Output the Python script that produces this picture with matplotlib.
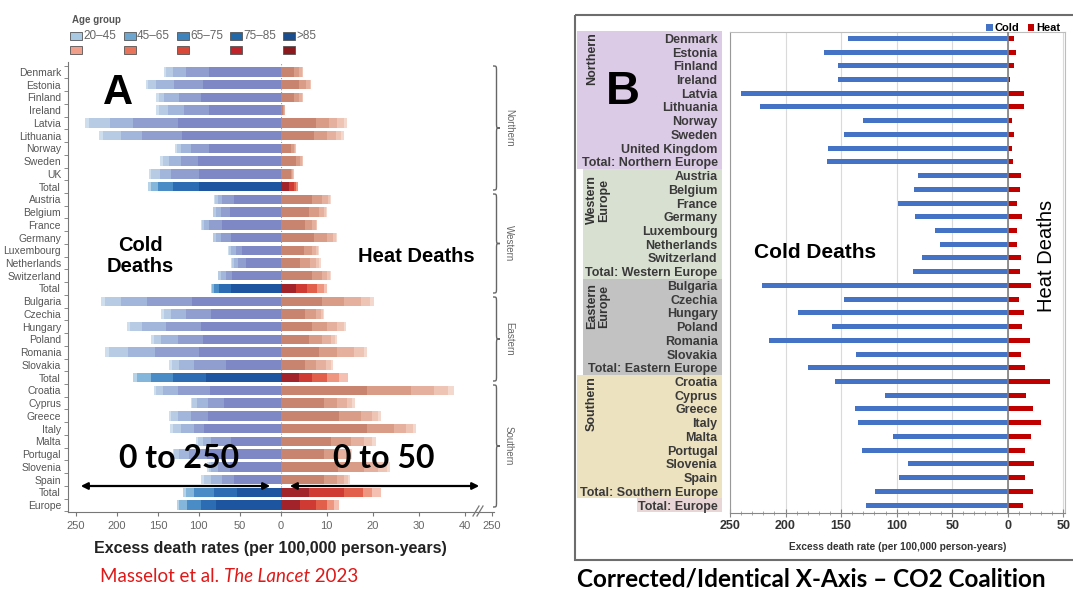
import matplotlib
matplotlib.use('Agg')
import matplotlib.pyplot as plt
from matplotlib.patches import Rectangle, PathPatch, FancyArrowPatch
from matplotlib.path import Path
import matplotlib.transforms as mtransforms
import numpy as np

# ---------------- data: panel A (stacked by age group) ----------------
rows_a = ["Denmark", "Estonia", "Finland", "Ireland", "Latvia", "Lithuania", "Norway",
          "Sweden", "UK", "Total",
          "Austria", "Belgium", "France", "Germany", "Luxembourg", "Netherlands",
          "Switzerland", "Total",
          "Bulgaria", "Czechia", "Hungary", "Poland", "Romania", "Slovakia", "Total",
          "Croatia", "Cyprus", "Greece", "Italy", "Malta", "Portugal", "Slovenia",
          "Spain", "Total", "Europe"]
total_rows = [9, 17, 24, 33, 34]
age_groups = ["20\u201345", "45\u201365", "65\u201375", "75\u201385", ">85"]

# cold excess death rates per age group (innermost segment = >85)
cold_85 = [87, 95, 97, 87, 126, 120, 87, 101, 100, 100,
           57, 62, 72, 61, 47, 42, 59, 61,
           108, 85, 97, 95, 100, 67, 91,
           86, 69, 89, 93, 61, 90, 62, 57, 53, 79]
cold_75 = [29, 35, 27, 31, 55, 49, 23, 21, 34, 32,
           14, 11, 15, 12, 8, 10, 8, 14,
           55, 31, 43, 31, 54, 39, 41,
           40, 20, 21, 13, 24, 22, 15, 14, 28, 18]
cold_65 = [16, 22, 18, 20, 28, 26, 12, 14, 14, 18,
           6, 6, 6, 6, 5, 4.5, 6, 6,
           32, 18, 29, 20, 33, 18, 26,
           18, 13, 16, 16, 10, 12, 8, 14, 25, 17]
cold_45 = [8, 10, 7, 11, 25, 22, 5, 8, 10, 9,
           3, 3, 3, 3, 3, 3, 3, 3,
           20, 9, 15, 9, 23, 9, 17,
           8, 6, 8, 10, 6, 6, 3, 9, 10, 10]
cold_20 = [3, 3, 3, 3, 5, 5, 2, 3, 3, 3,
           1, 1, 1.5, 1, 1, 1.2, 1, 1,
           5, 3, 4, 3, 5, 3, 5,
           3, 2, 3, 3, 3, 2, 1.5, 3, 3, 3]

heat_85 = [2.9, 4.0, 2.9, 0.6, 7.6, 7.2, 2.2, 3.3, 2.2, 1.8,
           6.9, 6.2, 5.4, 7.2, 5.1, 4.3, 6.9, 3.3,
           9.0, 5.4, 6.9, 6.2, 8.3, 5.4, 4.0,
           18.8, 9.4, 12.7, 18.8, 10.9, 9.4, 12.5, 9.4, 6.2, 4.3]
heat_75 = [1.2, 1.5, 1.2, 0.2, 2.9, 2.9, 0.7, 0.9, 0.4, 1.1,
           2.1, 2.1, 1.5, 2.9, 1.8, 2.2, 2.1, 2.5,
           4.8, 2.2, 3.2, 2.8, 4.0, 2.2, 2.9,
           9.5, 2.9, 4.7, 5.8, 4.3, 3.3, 5.5, 2.9, 7.6, 3.3]
heat_65 = [0.5, 0.8, 0.5, 0.1, 1.8, 1.9, 0.3, 0.4, 0.2, 0.5,
           1.2, 1.1, 0.7, 1.3, 0.9, 1.3, 1.1, 2.2,
           3.6, 1.1, 2.2, 1.9, 3.6, 2.2, 3.2,
           5.0, 2.2, 2.5, 2.6, 2.9, 1.8, 3.2, 1.5, 4.0, 2.5]
heat_45 = [0.2, 0.3, 0.2, 0.0, 1.5, 1.2, 0.1, 0.2, 0.1, 0.3,
           0.6, 0.5, 0.3, 0.6, 0.4, 0.6, 0.6, 1.5,
           2.1, 0.5, 1.4, 0.9, 2.1, 1.2, 2.6,
           3.0, 1.1, 1.3, 1.5, 1.8, 0.8, 1.8, 0.9, 2.1, 1.5]
heat_20 = [0.1, 0.1, 0.1, 0.0, 0.7, 0.6, 0.1, 0.1, 0.0, 0.1,
           0.2, 0.2, 0.1, 0.3, 0.1, 0.3, 0.2, 0.6,
           0.8, 0.2, 0.6, 0.4, 0.8, 0.4, 1.9,
           1.4, 0.5, 0.5, 0.6, 0.8, 0.3, 0.7, 0.3, 1.8, 1.1]

# ---------------- data: panel B (totals) ----------------
rows_b = ["Denmark", "Estonia", "Finland", "Ireland", "Latvia", "Lithuania", "Norway",
          "Sweden", "United Kingdom", "Total: Northern Europe",
          "Austria", "Belgium", "France", "Germany", "Luxembourg", "Netherlands",
          "Switzerland", "Total: Western Europe",
          "Bulgaria", "Czechia", "Hungary", "Poland", "Romania", "Slovakia",
          "Total: Eastern Europe",
          "Croatia", "Cyprus", "Greece", "Italy", "Malta", "Portugal", "Slovenia",
          "Spain", "Total: Southern Europe", "Total: Europe"]
cold_b = [143.5, 165, 153, 153, 240, 223, 130.6, 147, 161.5, 163,
          80.5, 84.7, 99, 83.5, 65.5, 60.7, 77.5, 85.6,
          221, 147, 189, 158.6, 215, 137, 179.6,
          155.6, 110.5, 137.5, 134.5, 103.6, 131.5, 89.5, 97.6, 119.5, 127.6]
heat_b = [6, 7.8, 6, 2, 14.7, 14.7, 3.6, 6, 3.6, 4.8,
          11.7, 10.8, 8.7, 12.6, 8.7, 8.7, 11.7, 10.8,
          20.7, 10.2, 14.7, 12.6, 19.8, 11.7, 15.6,
          38, 16.8, 22.8, 30, 20.7, 15.6, 23.7, 15.6, 22.8, 13.8]

# ---------------- figure ----------------
W, H = 1073, 589
fig = plt.figure(figsize=(W / 100, H / 100), dpi=100)
fig.patch.set_facecolor('white')
px = mtransforms.Affine2D().scale(1 / W, -1 / H).translate(0, 1) + fig.transFigure
SANS = 'Liberation Sans'
HUM = 'Lato'


def axrect(l, t, r, b):
    return [l / W, 1 - b / H, (r - l) / W, (b - t) / H]


# ================= PANEL A =================
axL = fig.add_axes(axrect(68, 62, 280.5, 512))
axR = fig.add_axes(axrect(280.5, 62, 494, 512), sharey=axL)
n = len(rows_a)
y = np.arange(n)

cold_country = ['#7d88c5', '#8f9dcf', '#a2b6dc', '#b7cbe5', '#cfdeef']
cold_total = ['#1d55a0', '#2c6cb2', '#4a8cc6', '#84b6dc', '#b6d3ea']
heat_country = ['#c8846f', '#d89c87', '#e5b09e', '#eec4b5', '#f5d8cd']
heat_total = ['#a3232a', '#cf3a32', '#e2604b', '#ee967f', '#f5bfb1']

cold_groups = [cold_85, cold_75, cold_65, cold_45, cold_20]
heat_groups = [heat_85, heat_75, heat_65, heat_45, heat_20]
cum = np.zeros(n)
for j, vals in enumerate(cold_groups):
    vals = np.array(vals, dtype=float)
    cols = [cold_total[j] if i in total_rows else cold_country[j] for i in range(n)]
    axL.barh(y, -vals, left=-cum, height=0.74, color=cols, linewidth=0)
    cum += vals
cum = np.zeros(n)
for j, vals in enumerate(heat_groups):
    vals = np.array(vals, dtype=float)
    cols = [heat_total[j] if i in total_rows else heat_country[j] for i in range(n)]
    axR.barh(y, vals, left=cum, height=0.74, color=cols, linewidth=0)
    cum += vals

axL.set_xlim(-260, 0)
axR.set_xlim(0, 46.3)
axL.set_ylim(34.55, -0.785)
axR.axvline(0, color='#999999', lw=0.8, ls=(0, (1, 1.5)), zorder=0)

for a in (axL, axR):
    for s in ('top', 'right'):
        a.spines[s].set_visible(False)
    a.spines['bottom'].set_color('#777777')
    a.tick_params(axis='x', colors='#777777', labelsize=8, length=3, labelcolor='#666666')
axR.spines['left'].set_visible(False)
axL.spines['left'].set_color('#777777')

axL.set_xticks([-250, -200, -150, -100, -50, 0])
axL.set_xticklabels(['250', '200', '150', '100', '50', '0'], fontfamily=SANS)
axR.set_xticks([10, 20, 30, 40, 45.8])
axR.set_xticklabels(['10', '20', '30', '40', '250'], fontfamily=SANS)

axL.set_yticks(y)
axL.set_yticklabels(rows_a, fontfamily=SANS, fontsize=7.5, color='#555555')
axL.tick_params(axis='y', which='major', length=0, pad=5)
axL.set_yticks(np.arange(-0.5, n, 1.0), minor=True)
axL.tick_params(axis='y', which='minor', length=3, color='#777777')
axR.tick_params(axis='y', which='both', left=False, labelleft=False)

# axis break marks
for dx in (0, 4):
    fig.add_artist(plt.Line2D([473 + dx, 479 + dx], [516, 506], transform=px, color='#777777', lw=0.9))

# braces + region names
def brace(x0, y0, y1, w=7, q=5):
    xm = x0 + w / 2
    ym = (y0 + y1) / 2
    verts = [(x0, y0), (xm, y0), (xm, y0), (xm, y0 + q),
             (xm, ym - q), (xm, ym), (xm, ym), (x0 + w, ym),
             (xm, ym), (xm, ym), (xm, ym + q),
             (xm, y1 - q), (xm, y1), (xm, y1), (x0, y1)]
    codes = [Path.MOVETO, Path.CURVE4, Path.CURVE4, Path.CURVE4,
             Path.LINETO, Path.CURVE4, Path.CURVE4, Path.CURVE4,
             Path.CURVE4, Path.CURVE4, Path.CURVE4,
             Path.LINETO, Path.CURVE4, Path.CURVE4, Path.CURVE4]
    fig.add_artist(PathPatch(Path(verts, codes), transform=px, fill=False,
                             edgecolor='#666666', lw=1.0))

for (y0, y1, name) in [(66, 190, 'Northern'), (194, 293, 'Western'),
                       (297, 381, 'Eastern'), (385, 507, 'Southern')]:
    brace(493, y0, y1)
    fig.text(509, (y0 + y1) / 2, name, transform=px, rotation=270, ha='center', va='center',
             fontsize=7, color='#666666', fontfamily=SANS)

# legend of age groups
fig.text(72, 20, 'Age group', transform=px, fontsize=7, fontweight='bold', color='#555555',
         va='center', ha='left', fontfamily=SANS)
leg_x = [70, 124, 177, 230, 283]
blues = ['#a9c9e3', '#6fa6d0', '#3f83bd', '#2068a8', '#194d8e']
reds = ['#f0a08a', '#e8745c', '#d8493a', '#c0232a', '#8b1a1f']
for k in range(5):
    fig.add_artist(Rectangle((leg_x[k], 32), 12, 8, transform=px, facecolor=blues[k],
                             edgecolor='#555555', lw=0.6))
    fig.add_artist(Rectangle((leg_x[k], 46), 12, 8, transform=px, facecolor=reds[k],
                             edgecolor='#555555', lw=0.6))
    fig.text(leg_x[k] + 13, 36, age_groups[k], transform=px, fontsize=8.5, color='#666666',
             va='center', ha='left', fontfamily=SANS)

fig.text(118, 93, 'A', transform=px, fontsize=30, fontweight='heavy', ha='center',
         va='center', fontfamily=SANS)
fig.text(140, 256, 'Cold\nDeaths', transform=px, fontsize=14.5, fontweight='bold', ha='center',
         va='center', fontfamily=SANS, linespacing=1.15)
fig.text(416, 257, 'Heat Deaths', transform=px, fontsize=14.5, fontweight='bold', ha='center',
         va='center', fontfamily=SANS)
fig.text(179, 459, '0 to 250', transform=px, fontsize=23, fontweight='bold', ha='center',
         va='center', fontfamily=HUM)
fig.text(384, 459, '0 to 50', transform=px, fontsize=23, fontweight='bold', ha='center',
         va='center', fontfamily=HUM)
for (x0, x1) in [(78, 273), (287, 482)]:
    fig.add_artist(FancyArrowPatch((x0, 486), (x1, 486), transform=px, arrowstyle='<|-|>',
                                   mutation_scale=10, lw=1.6, color='black'))
fig.text(270, 549, 'Excess death rates (per 100,000 person-years)', transform=px,
         fontsize=11.5, fontweight='bold', ha='center', va='center', fontfamily=SANS,
         color='#222222')
t1 = fig.text(100, 577, 'Masselot et al. ', transform=px, fontsize=13.5, color='#e01818',
              ha='left', va='center', fontfamily=HUM)
fig.canvas.draw()
bb = t1.get_window_extent()
t2 = fig.text(bb.x1 / W, 1 - 577 / H, 'The Lancet', fontsize=13.5, color='#e01818',
              ha='left', va='center', fontfamily=HUM, style='italic')
fig.canvas.draw()
bb2 = t2.get_window_extent()
fig.text(bb2.x1 / W, 1 - 577 / H, ' 2023', fontsize=13.5, color='#e01818',
         ha='left', va='center', fontfamily=HUM)

# ================= PANEL B =================
fig.add_artist(Rectangle((575, 15), 520, 545, transform=px, fill=False,
                         edgecolor='#6d6d6d', lw=1.5))
axB = fig.add_axes(axrect(730, 32, 1065, 513))
yb = np.arange(len(rows_b))
bc = axB.barh(yb, -np.array(cold_b), height=0.36, color='#4472c4', label='Cold', zorder=3)
bh = axB.barh(yb, heat_b, height=0.36, color='#c00000', label='Heat', zorder=3)
axB.set_xlim(-250, 51.6)
axB.set_ylim(34.58, -0.46)
axB.axvline(0, color='#7f7f7f', lw=1.2, zorder=4)
axB.set_xticks([-250, -200, -150, -100, -50, 0, 50])
axB.set_xticklabels(['250', '200', '150', '100', '50', '0', '50'], fontweight='bold',
                    fontfamily=SANS, fontsize=9, color='#333333')
axB.set_xticks(np.arange(-250, 51, 10), minor=True)
axB.tick_params(axis='x', which='major', direction='inout', length=6, color='#888888', pad=2)
axB.tick_params(axis='x', which='minor', direction='inout', length=3, color='#999999')
axB.grid(axis='x', which='major', color='#dadada', lw=0.8, zorder=0)
axB.set_axisbelow(True)
for s in axB.spines.values():
    s.set_color('#bdbdbd')
axB.spines['left'].set_color('#999999')
axB.spines['bottom'].set_color('#888888')
axB.set_yticks(yb)
axB.set_yticklabels(rows_b, fontweight='bold', fontfamily=SANS, fontsize=9, color='#3a3a3a')
axB.tick_params(axis='y', length=0, pad=9)
axB.set_xlabel('Excess death rate (per 100,000 person-years)', fontweight='bold',
               fontfamily=SANS, fontsize=7.3, color='#333333', labelpad=7)

bt = mtransforms.blended_transform_factory(mtransforms.Affine2D().scale(1 / W, 1) + fig.transFigure,
                                           axB.transData)
for (x0, x1, y0, y1, c) in [(577, 722, -0.5, 9.5, '#dccbe6'), (583, 722, 9.5, 17.5, '#d8e0d2'),
                            (583, 722, 17.5, 24.5, '#c2c2c2'), (577, 722, 24.5, 33.5, '#ede2bf'),
                            (637, 722, 33.5, 34.5, '#e8d5d5')]:
    axB.add_patch(Rectangle((x0, y0), x1 - x0, y1 - y0, transform=bt, facecolor=c,
                            edgecolor='none', clip_on=False, zorder=0.5))

for (xc, yc, txt) in [(592, 59, 'Northern'), (598, 200, 'Western\nEurope'),
                      (598, 306, 'Eastern\nEurope'), (592, 404, 'Southern')]:
    fig.text(xc, yc, txt, transform=px, rotation=90, ha='center', va='center', fontsize=9,
             fontweight='bold', color='#333333', fontfamily=SANS, linespacing=0.95)

fig.text(623, 92, 'B', transform=px, fontsize=34, fontweight='heavy', ha='center', va='center',
         fontfamily=SANS)
fig.text(815, 252, 'Cold Deaths', transform=px, fontsize=15, fontweight='bold', ha='center',
         va='center', fontfamily=SANS)
fig.text(1047, 256, 'Heat Deaths', transform=px, fontsize=14.5, rotation=90, ha='center',
         va='center', fontfamily=SANS)
axB.legend(handles=[bc, bh], loc='lower right', bbox_to_anchor=(0.99, 0.995), ncol=2,
           frameon=False, prop={'family': SANS, 'weight': 'bold', 'size': 8},
           handlelength=0.6, handleheight=0.6, handletextpad=0.2, columnspacing=0.7,
           borderpad=0.1, borderaxespad=0.0)

fig.text(811, 579, 'Corrected/Identical X-Axis \u2013 CO2 Coalition', transform=px, fontsize=17.5,
         fontweight='bold', ha='center', va='center', fontfamily=HUM)

fig.savefig('out.png', dpi=100)
